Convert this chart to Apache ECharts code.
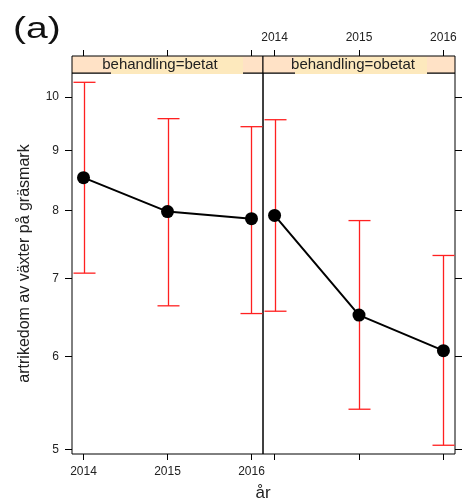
<!DOCTYPE html>
<html>
<head>
<meta charset="utf-8">
<script src="https://cdn.jsdelivr.net/npm/echarts@6/dist/echarts.min.js"></script>
<style>
  html, body { margin: 0; padding: 0; background: #fff; }
  #chart { width: 470px; height: 504px; }
</style>
</head>
<body>
<div id="chart"></div>
<script>
// data
var years = [2014, 2015, 2016];
var yTicks = [5, 6, 7, 8, 9, 10];
var betatMean = [8.53, 7.98, 7.87];
var betatLower = [7.07, 6.63, 6.53];
var betatUpper = [10.29, 9.58, 9.43];
var obetatMean = [7.92, 6.51, 6.07];
var obetatLower = [6.56, 5.41, 5.04];
var obetatUpper = [9.56, 7.84, 7.32];

var font = "Liberation Sans";
var chart = echarts.init(document.getElementById("chart"));

function pairs(a) {
  return years.map(function (y, i) { return [y, a[i]]; });
}
function bars(lo, hi) {
  return years.map(function (y, i) { return [y, lo[i], hi[i]]; });
}

// röda felstaplar med tvärstreck
function errorBar(params, api) {
  var x = api.value(0);
  var lo = api.coord([x, api.value(1)]);
  var hi = api.coord([x, api.value(2)]);
  var cx = Math.round(lo[0]) + 0.5;
  var half = 11;
  function seg(x1, y1, x2, y2) {
    return { type: "line", shape: { x1: x1, y1: y1, x2: x2, y2: y2 },
      style: { stroke: "#ff2020", lineWidth: 1.3, fill: null } };
  }
  return {
    type: "group",
    children: [
      seg(cx, lo[1], cx, hi[1]),
      seg(cx - half, lo[1], cx + half, lo[1]),
      seg(cx - half, hi[1], cx + half, hi[1])
    ]
  };
}

function xAxis(grid, pos, labels, offset) {
  return {
    type: "value", gridIndex: grid, position: pos, offset: offset || 0,
    min: 2013.863, max: 2016.137,
    splitLine: { show: false }, axisLine: { show: false },
    axisTick: { show: true, length: 6, customValues: years, lineStyle: { color: "#000" } },
    axisLabel: { show: labels, customValues: years, margin: 12, color: "#222",
      fontFamily: font, fontSize: 12, formatter: function (v) { return String(v); } }
  };
}
function yAxis(grid, pos, labels, name) {
  return {
    type: "log", logBase: Math.E, gridIndex: grid, position: pos,
    min: 4.954, max: 10.48,
    name: name || "", nameLocation: "middle", nameGap: 39,
    nameTextStyle: { fontFamily: font, fontSize: 16, color: "#222" },
    splitLine: { show: false }, axisLine: { show: false },
    axisTick: { show: true, length: 7, customValues: yTicks, lineStyle: { color: "#000" } },
    axisLabel: { show: labels, customValues: yTicks, margin: 13, color: "#222",
      fontFamily: font, fontSize: 12, formatter: function (v) { return String(Math.round(v)); } }
  };
}

chart.setOption({
  animation: false,
  grid: [
    { left: 72, top: 73, width: 191, height: 381, show: true, borderColor: "#000", borderWidth: 1 },
    { left: 263, top: 73, width: 192, height: 381, show: true, borderColor: "#000", borderWidth: 1 }
  ],
  xAxis: [
    xAxis(0, "bottom", true),
    xAxis(0, "top", false, 17),
    xAxis(1, "bottom", false),
    xAxis(1, "top", true, 17)
  ],
  yAxis: [
    yAxis(0, "left", true, "artrikedom av växter på gräsmark"),
    yAxis(1, "right", false)
  ],
  graphic: [
    { type: "text", z: 102, x: 13, y: 30, scaleX: 1.3,
      style: { text: "(a)", fontFamily: font, fontSize: 30, fill: "#111",
        textAlign: "left", textVerticalAlign: "middle" } },
    { type: "rect", z: 100, shape: { x: 72, y: 56, width: 191, height: 17 },
      style: { fill: "#ffe2c6", stroke: "#000", lineWidth: 1 } },
    { type: "rect", z: 100, shape: { x: 263, y: 56, width: 192, height: 17 },
      style: { fill: "#ffe2c6", stroke: "#000", lineWidth: 1 } },
    { type: "rect", z: 101, shape: { x: 111, y: 57, width: 132, height: 17 },
      style: { fill: "#fde9bd" } },
    { type: "rect", z: 101, shape: { x: 295, y: 57, width: 132, height: 17 },
      style: { fill: "#fde9bd" } },
    { type: "text", z: 102, x: 160, y: 65,
      style: { text: "behandling=betat", fontFamily: font, fontSize: 15, fill: "#222",
        textAlign: "center", textVerticalAlign: "middle" } },
    { type: "text", z: 102, x: 353, y: 65,
      style: { text: "behandling=obetat", fontFamily: font, fontSize: 15, fill: "#222",
        textAlign: "center", textVerticalAlign: "middle" } },
    { type: "text", z: 102, x: 263, y: 493,
      style: { text: "år", fontFamily: font, fontSize: 17, fill: "#222",
        textAlign: "center", textVerticalAlign: "middle" } }
  ],
  series: [
    { type: "custom", xAxisIndex: 0, yAxisIndex: 0, renderItem: errorBar,
      data: bars(betatLower, betatUpper), z: 1 },
    { type: "custom", xAxisIndex: 2, yAxisIndex: 1, renderItem: errorBar,
      data: bars(obetatLower, obetatUpper), z: 1 },
    { type: "line", xAxisIndex: 0, yAxisIndex: 0, data: pairs(betatMean),
      symbol: "circle", symbolSize: 13, z: 3,
      itemStyle: { color: "#000" }, lineStyle: { color: "#000", width: 2 } },
    { type: "line", xAxisIndex: 2, yAxisIndex: 1, data: pairs(obetatMean),
      symbol: "circle", symbolSize: 13, z: 3,
      itemStyle: { color: "#000" }, lineStyle: { color: "#000", width: 2 } }
  ]
});
</script>
</body>
</html>
